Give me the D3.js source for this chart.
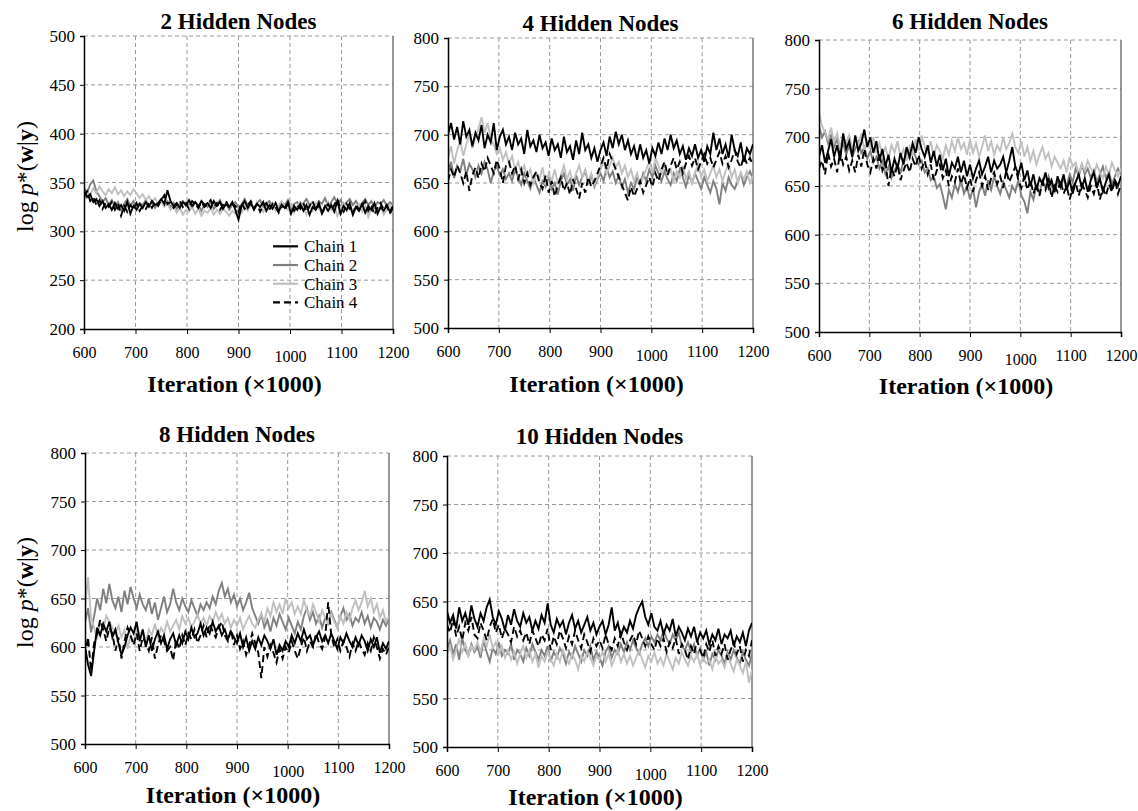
<!DOCTYPE html>
<html>
<head>
<meta charset="utf-8">
<script src="https://cdn.jsdelivr.net/npm/d3@7"></script>
<style>
  html, body { margin: 0; padding: 0; background: #fff; }
  svg text { font-family: "Liberation Serif", "Times New Roman", serif !important; }
</style>
</head>
<body>
<svg id="chart" width="1138" height="811"></svg>
<script>
// ---------------- DATA ----------------
const iterStart = 600;           // first iteration (x1000)
const iterStep = 6;              // sampling interval (x1000)
const chainNames = ["Chain 1", "Chain 2", "Chain 3", "Chain 4"];
const panelTitles = ["2 Hidden Nodes", "4 Hidden Nodes", "6 Hidden Nodes", "8 Hidden Nodes", "10 Hidden Nodes"];
const xTicks = [600, 700, 800, 900, 1000, 1100, 1200];
const yTicks2 = [200, 250, 300, 350, 400, 450, 500];
const yTicksN = [500, 550, 600, 650, 700, 750, 800];

// 2 hidden nodes
const h2c1 = [342,335,338,330,333,326,331,324,328,322, 329,323,327,321,330,318,326,322,328,324, 330,325,331,327,329,333,328,342,331,326, 329,324,330,327,332,326,330,325,331,327, 329,324,331,326,330,323,328,325,330,322, 312,326,331,324,329,322,328,325,330,321, 327,323,329,320,327,324,330,318,326,322, 328,321,327,317,325,322,329,319,326,321, 327,320,331,318,326,322,329,317,325,321, 328,319,326,322,329,318,325,321,327,320,326];
const h2c2 = [345,339,348,352,341,336,330,334,327,332, 325,330,322,328,333,326,331,324,329,327, 332,326,330,324,329,333,327,331,325,329, 323,328,331,326,329,324,330,327,321,328, 325,330,323,327,332,325,329,322,327,330, 324,328,333,326,330,323,329,332,325,328, 331,326,329,323,330,327,332,325,328,330, 324,329,333,327,330,325,331,328,334,326, 330,335,328,332,326,330,333,327,331,325, 329,333,327,331,324,330,328,332,326,330,327];
const h2c3 = [332,340,337,344,339,346,341,337,343,339, 345,338,342,336,341,337,343,339,334,338, 332,336,330,334,328,331,325,329,322,326, 319,324,317,322,320,325,318,323,316,321, 319,324,317,322,318,323,320,316,321,318, 323,319,326,321,328,323,330,325,320,327, 323,329,321,327,331,325,322,328,319,326, 330,324,317,326,321,329,323,318,325,330, 322,327,316,324,329,321,326,318,323,328, 320,326,315,323,328,319,325,317,322,327,320];
const h2c4 = [336,341,331,335,327,332,323,329,325,330, 322,328,316,326,320,327,323,329,321,326, 323,329,324,330,326,332,337,328,330,324, 327,331,325,329,323,331,328,324,330,325, 328,332,325,329,322,327,331,324,328,326, 320,329,323,327,331,324,328,320,326,329, 322,328,325,319,327,322,328,324,321,327, 323,329,320,326,331,322,327,318,324,328, 322,327,333,324,320,328,323,318,327,322, 326,331,321,327,317,324,329,322,326,318,324];

// 4 hidden nodes
const h4c1 = [700,712,695,708,690,714,698,705,688,702, 694,710,686,700,692,712,684,698,705,690, 698,684,702,690,696,680,705,688,694,682, 700,686,692,678,696,684,690,676,698,682, 688,674,694,680,702,684,690,676,686,672, 684,692,678,698,686,703,690,700,684,694, 680,688,674,690,676,684,670,686,678,692, 680,696,684,700,686,694,680,688,674,686, 678,690,676,684,672,688,680,702,684,696, 680,690,676,700,684,678,692,672,686,680,690];
const h4c2 = [660,672,655,668,662,675,658,670,664,656, 668,660,672,664,650,662,668,658,664,654, 660,652,664,656,648,660,652,644,656,648, 640,652,646,656,644,650,638,652,660,648, 654,642,658,648,656,662,650,658,646,654, 660,652,666,656,662,650,658,646,654,640, 650,644,656,648,660,652,664,656,668,660, 652,662,654,648,660,652,664,656,646,658, 650,660,652,644,656,648,640,652,644,628, 650,642,656,648,644,652,660,648,656,662,654];
const h4c3 = [676,688,670,684,694,678,690,700,686,698, 706,718,702,712,696,690,680,686,674,682, 670,678,664,672,660,668,656,664,650,660, 654,666,648,660,652,664,650,658,668,654, 662,650,660,668,656,664,652,660,648,656, 664,672,660,668,676,666,672,660,668,656, 664,652,660,648,656,664,672,660,676,668, 660,670,658,664,652,662,656,668,654,662, 650,660,670,656,664,652,660,668,656,664, 652,662,670,656,664,650,660,654,662,650,658];
const h4c4 = [652,664,656,668,660,650,662,642,658,666, 655,670,662,676,668,660,674,664,650,668, 672,660,668,654,664,650,660,648,656,662, 650,644,658,640,652,636,648,656,642,650, 638,654,644,634,650,640,656,646,652,660, 668,676,664,680,672,664,656,648,640,632, 646,636,644,652,640,648,656,646,660,652, 664,672,658,668,676,664,672,660,670,678, 668,676,664,672,680,670,676,666,674,682, 670,678,666,674,684,672,666,678,670,676,668];

// 6 hidden nodes
const h6c1 = [680,692,674,686,698,680,692,676,704,688, 696,680,702,686,694,708,690,700,684,696, 676,688,670,682,664,678,668,684,672,690, 680,694,684,700,688,680,692,674,686,670, 682,666,678,660,674,668,680,664,676,660, 672,658,668,676,662,670,680,664,676,668, 672,680,664,676,690,670,662,674,656,666, 650,662,646,658,652,664,648,656,644,660, 650,662,646,656,642,654,662,648,658,644, 656,664,648,658,644,654,662,646,656,650,660];
const h6c2 = [712,700,706,694,702,690,698,686,694,682, 692,680,688,696,684,690,678,686,674,680, 668,676,662,670,658,666,672,664,676,684, 678,688,680,672,676,664,668,656,660,648, 652,640,626,646,638,652,644,656,642,650, 636,648,628,644,652,640,656,646,660,650, 642,654,646,638,650,644,656,640,634,622, 644,636,650,642,656,648,660,650,644,656, 648,658,650,662,654,668,660,672,662,668, 658,666,654,662,670,658,664,652,660,668,662];
const h6c3 = [725,712,705,698,710,695,704,690,700,694, 702,688,698,692,704,686,696,690,700,684, 694,682,690,678,692,684,696,680,688,676, 690,682,698,686,702,690,684,696,680,692, 686,678,692,682,696,686,700,688,694,682, 698,684,694,680,690,702,686,696,682,692, 686,700,688,694,704,690,684,696,680,690, 676,686,672,682,690,678,684,670,680,674, 668,676,664,680,670,674,662,672,666,676, 668,662,672,664,658,670,662,674,666,660,668];
const h6c4 = [668,676,662,684,670,678,664,686,672,680, 666,676,664,682,670,688,672,664,678,668, 684,666,674,650,668,660,672,656,666,674, 664,678,670,682,668,676,662,672,656,666, 672,658,666,650,660,654,668,652,662,648, 658,644,656,664,650,660,646,658,664,652, 660,648,666,654,662,670,656,648,660,646, 656,642,652,640,654,646,658,638,650,644, 656,642,650,636,648,654,640,652,646,638, 650,642,654,636,648,640,652,644,656,642,652];

// 8 hidden nodes
const h8c1 = [600,582,570,596,620,612,624,616,626,610, 618,604,592,600,612,620,614,626,606,618, 600,612,596,608,616,604,612,598,608,614, 602,612,604,616,608,620,610,614,624,612, 620,614,626,616,622,612,618,608,616,610, 604,614,600,610,596,606,598,610,602,612, 606,598,608,592,602,596,606,600,612,604, 614,606,618,608,612,602,610,616,606,612, 604,614,606,598,610,604,614,606,600,610, 602,612,606,596,608,600,610,594,604,598,606];
const h8c2 = [625,640,615,632,650,638,660,645,665,648, 640,652,636,658,644,662,650,640,654,644, 638,650,634,646,628,640,652,636,644,660, 646,638,650,642,636,648,640,632,644,638, 646,640,652,644,658,666,652,660,646,654, 642,650,638,646,656,640,632,624,634,620, 628,616,630,622,634,626,618,630,622,614, 626,618,632,640,628,636,624,632,620,630, 624,636,628,620,632,640,628,634,622,630, 626,636,624,632,620,630,626,618,628,622,630];
const h8c3 = [640,672,630,620,608,625,618,632,626,620, 614,622,610,618,598,612,604,620,612,618, 606,618,612,624,610,620,614,626,616,622, 628,618,632,624,630,620,626,634,624,630, 622,632,626,636,628,634,624,630,620,628, 622,630,618,626,632,624,620,628,634,626, 640,632,646,636,644,634,650,640,646,634, 642,634,648,638,632,644,636,626,638,630, 624,634,626,620,632,624,636,628,640,648, 638,646,658,642,650,636,644,630,638,626,632];
const h8c4 = [590,610,575,604,614,628,618,606,620,614, 596,610,588,606,620,612,602,614,596,610, 604,596,610,588,602,612,606,596,600,586, 608,598,612,602,614,608,618,604,612,622, 610,624,616,610,620,626,612,606,618,602, 612,598,606,592,602,614,604,594,568,600, 590,602,594,584,598,588,600,594,606,596, 588,600,610,596,606,600,614,604,598,610, 646,612,600,608,596,606,600,590,604,596, 606,598,592,604,596,610,600,588,598,592,600];

// 10 hidden nodes
const h10c1 = [640,628,636,622,644,630,638,626,646,632, 624,638,630,644,652,634,626,640,632,620, 636,626,642,630,624,638,628,634,620,630, 622,636,628,648,626,618,632,624,630,616, 628,636,622,630,618,626,634,620,628,616, 624,630,616,626,644,620,628,614,624,618, 630,622,636,644,650,634,626,638,624,620, 630,616,626,620,632,614,624,618,610,622, 614,624,608,618,612,620,606,616,610,622, 606,616,612,620,604,614,608,618,604,620,628];
const h10c2 = [600,610,596,606,590,612,600,594,606,598, 604,592,610,598,588,602,596,608,594,600, 596,606,590,600,596,588,602,594,606,598, 590,600,594,604,588,598,592,602,596,586, 598,592,604,596,588,600,594,604,590,598, 592,584,598,604,592,600,596,606,598,608, 600,610,602,596,606,612,604,614,608,616, 610,620,612,606,616,610,618,604,600,608, 598,606,594,602,590,598,584,596,590,600, 594,586,598,590,600,592,586,598,590,584,596];
const h10c3 = [596,604,590,600,612,598,606,594,604,600, 608,598,612,604,616,602,608,596,604,592, 600,590,598,586,596,604,592,600,588,596, 582,594,588,598,590,584,596,588,600,592, 586,596,590,580,594,588,598,592,584,594, 590,598,588,596,584,592,600,588,596,586, 594,584,592,600,590,582,594,588,598,586, 592,584,596,588,580,592,586,598,590,584, 594,588,596,584,592,586,590,580,594,586, 590,582,594,586,578,590,584,576,588,566,580];
const h10c4 = [626,618,632,614,624,610,628,620,634,616, 612,628,620,610,624,632,618,626,612,622, 616,608,624,614,620,610,618,606,620,612, 604,616,610,622,600,614,606,620,612,602, 614,606,620,610,602,616,608,598,612,604, 610,602,616,606,600,612,604,618,608,600, 610,616,606,620,612,604,614,606,600,612, 604,612,598,608,602,612,596,606,600,590, 604,596,610,600,592,606,598,610,594,604, 596,606,590,600,608,596,604,588,600,594,610];

const panelSeries = [
  [h2c1, h2c2, h2c3, h2c4],
  [h4c1, h4c2, h4c3, h4c4],
  [h6c1, h6c2, h6c3, h6c4],
  [h8c1, h8c2, h8c3, h8c4],
  [h10c1, h10c2, h10c3, h10c4]
];
const panelYTicks = [yTicks2, yTicksN, yTicksN, yTicksN, yTicksN];

// ---------------- LAYOUT / STYLE ----------------
const SERIF = '"Liberation Serif", "Times New Roman", serif';
const layouts = [
  { l: 84,  t: 36,  r: 393,  b: 329, titleBase: 29,  xlabOff: 63, ylab: true,  legend: true },
  { l: 448, t: 38,  r: 753,  b: 328, titleBase: 31,  xlabOff: 64, ylab: false, legend: false },
  { l: 819, t: 40,  r: 1121, b: 332, titleBase: 29,  xlabOff: 62, ylab: false, legend: false },
  { l: 85,  t: 453, r: 389,  b: 744, titleBase: 442, xlabOff: 59, ylab: true,  legend: false },
  { l: 447, t: 456, r: 752,  b: 747, titleBase: 444, xlabOff: 58, ylab: false, legend: false }
];
const chainStyle = [
  { color: "#000000", dash: null },
  { color: "#808080", dash: null },
  { color: "#c0c0c0", dash: null },
  { color: "#000000", dash: "7,4" }
];
const drawOrder = [1, 2, 3, 0];

const svg = d3.select("#chart");

layouts.forEach((L, p) => {
  const yt = panelYTicks[p];
  const x = d3.scaleLinear().domain([xTicks[0], xTicks[xTicks.length - 1]]).range([L.l, L.r]);
  const y = d3.scaleLinear().domain([yt[0], yt[yt.length - 1]]).range([L.b, L.t]);
  const g = svg.append("g");

  // grid
  g.append("g").selectAll("line").data(yt.slice(1)).join("line")
    .attr("x1", L.l).attr("x2", L.r).attr("y1", d => y(d)).attr("y2", d => y(d))
    .attr("stroke", "#9a9a9a").attr("stroke-width", 1).attr("stroke-dasharray", "4,3");
  g.append("g").selectAll("line").data(xTicks.slice(1, -1)).join("line")
    .attr("y1", L.t).attr("y2", L.b).attr("x1", d => x(d)).attr("x2", d => x(d))
    .attr("stroke", "#9a9a9a").attr("stroke-width", 1).attr("stroke-dasharray", "4,3");
  // right border
  g.append("line").attr("x1", L.r).attr("x2", L.r).attr("y1", L.t).attr("y2", L.b)
    .attr("stroke", "#555").attr("stroke-width", 1.2);

  // traces
  const clipId = "clip" + p;
  svg.append("clipPath").attr("id", clipId).append("rect")
    .attr("x", L.l).attr("y", L.t).attr("width", L.r - L.l).attr("height", L.b - L.t);
  const line = d3.line().x((d, i) => x(iterStart + i * iterStep)).y(d => y(d));
  const tg = g.append("g").attr("clip-path", `url(#${clipId})`);
  drawOrder.forEach(c => {
    tg.append("path").datum(panelSeries[p][c])
      .attr("d", line).attr("fill", "none")
      .attr("stroke", chainStyle[c].color).attr("stroke-width", 1.9)
      .attr("stroke-linejoin", "miter")
      .attr("stroke-dasharray", chainStyle[c].dash);
  });

  // axes
  const xAxis = d3.axisBottom(x).tickValues(xTicks).tickSize(5).tickFormat(d3.format("d"));
  const ax = g.append("g").attr("transform", `translate(0,${L.b})`).call(xAxis)
    .attr("font-family", SERIF);
  ax.select(".domain").attr("stroke", "#000").attr("stroke-width", 1.5);
  ax.selectAll(".tick line").attr("stroke", "#000");
  ax.selectAll(".tick text").style("font-family", SERIF).attr("font-size", 16)
    .attr("fill", "#000").attr("y", 0).attr("dy", d => d === 1000 ? 33 : 29);

  const yAxis = d3.axisLeft(y).tickValues(yt).tickSize(4).tickPadding(5).tickFormat(d3.format("d"));
  const ay = g.append("g").attr("transform", `translate(${L.l},0)`).call(yAxis)
    .attr("font-family", SERIF);
  ay.select(".domain").attr("stroke", "#000").attr("stroke-width", 1.5);
  ay.selectAll(".tick line").attr("stroke", "#000");
  ay.selectAll(".tick text").style("font-family", SERIF).attr("font-size", 17)
    .attr("fill", "#000").attr("dy", "0.33em");

  // title
  g.append("text").attr("x", (L.l + L.r) / 2).attr("y", L.titleBase)
    .style("font-family", SERIF)
    .attr("text-anchor", "middle").attr("font-weight", "bold").attr("font-size", 23)
    .text(panelTitles[p]);

  // x label
  g.append("text").attr("x", (L.l + L.r) / 2 - 4).attr("y", L.b + L.xlabOff)
    .style("font-family", SERIF)
    .attr("text-anchor", "middle").attr("font-weight", "bold").attr("font-size", 24)
    .text("Iteration (\u00d71000)");

  // y label
  if (L.ylab) {
    const cy = (L.t + L.b) / 2 - 6;
    const t = g.append("text").attr("transform", `translate(33,${cy}) rotate(-90)`)
      .style("font-family", SERIF)
      .attr("text-anchor", "middle").attr("font-size", 24);
    t.append("tspan").text("log ");
    t.append("tspan").attr("font-style", "italic").text("p");
    t.append("tspan").text("*(");
    t.append("tspan").attr("font-weight", "bold").text("w");
    t.append("tspan").text("|");
    t.append("tspan").attr("font-weight", "bold").text("y");
    t.append("tspan").text(")");
  }

  // legend
  if (L.legend) {
    const lg = g.append("g");
    chainNames.forEach((name, c) => {
      const ly = y(300) + 15 + c * 18.7;
      lg.append("line").attr("x1", L.l + 189).attr("x2", L.l + 214)
        .attr("y1", ly).attr("y2", ly)
        .attr("stroke", chainStyle[c].color).attr("stroke-width", 2.2)
        .attr("stroke-dasharray", chainStyle[c].dash);
      lg.append("text").attr("x", L.l + 220).attr("y", ly + 6)
        .style("font-family", SERIF)
        .attr("font-size", 17).text(name);
    });
  }
});
</script>
</body>
</html>
